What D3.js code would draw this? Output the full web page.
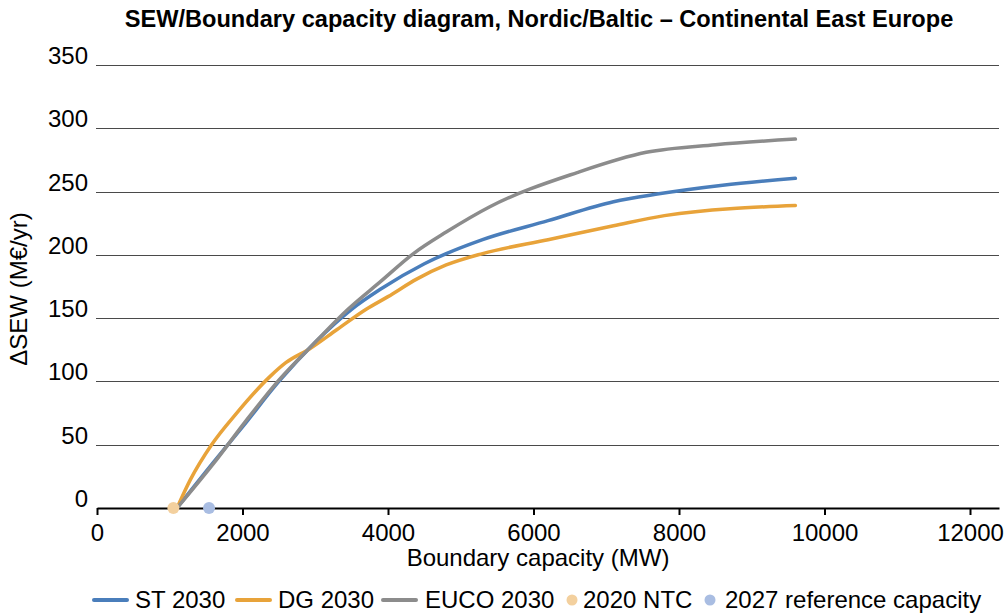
<!DOCTYPE html>
<html lang="en">
<head>
<meta charset="UTF-8">
<title>SEW/Boundary capacity diagram</title>
<script src="https://d3js.org/d3.v7.min.js"></script>
<style>
  body { margin: 0; background: #fff; }
  svg { font-family: Arial, "Liberation Sans", sans-serif; }
  .grid line { stroke: #4a4a4a; stroke-width: 1px; }
  .series { fill: none; stroke-width: 3.5px; stroke-linecap: round; stroke-linejoin: round; }
</style>
</head>
<body>
<div id="chart"></div>
<script>
  // data (MW, M€/yr)
  const st2030 = [[1100,0],[1600,36],[2000,64],[2500,100],[3000,131],[3500,157],[3900,173],[4500,193],[5300,212],[6200,227],[7100,242],[7700,248],[8600,255],[9600,260.5]];
  const dg2030 = [[1100,0],[1280,22],[1575,50],[1920,75],[2380,104],[2600,115],[2930,126],[3300,141],[3700,157],[4000,167],[4400,181],[4800,192],[5300,201],[6200,212],[7100,223],[7800,231],[9600,239]];
  const euco2030 = [[1100,0],[1600,35],[2050,69],[2500,101],[3000,131],[3450,157],[3900,179],[4350,201],[4800,218],[5400,238],[6600,265],[7550,281],[8500,287],[9600,291.5]];
  const ntc2020 = [[1050,0]];
  const ref2027 = [[1540,0]];
  const xTicks = [0,2000,4000,6000,8000,10000,12000];
  const yTicks = [0,50,100,150,200,250,300,350];

  const series = [
    { name: "ST 2030", data: st2030, color: "#4a7ebb" },
    { name: "DG 2030", data: dg2030, color: "#e8a33a" },
    { name: "EUCO 2030", data: euco2030, color: "#8c8c8c" }
  ];
  const dots = [
    { name: "2020 NTC", data: ntc2020, color: "#f3d09e" },
    { name: "2027 reference capacity", data: ref2027, color: "#a9bde2" }
  ];

  const W = 1005, H = 616;
  const margin = { top: 65, right: 6, bottom: 108, left: 97 };
  const innerW = W - margin.left - margin.right;
  const innerH = H - margin.top - margin.bottom;
  const fs = "24px";

  const svg = d3.select("#chart").append("svg")
    .attr("width", W).attr("height", H);

  const g = svg.append("g")
    .attr("transform", `translate(${margin.left},${margin.top})`);

  const x = d3.scaleLinear().domain([0, 12000 * innerW / (145.5 * 6)]).range([0, innerW]);
  const y = d3.scaleLinear().domain([0, 350]).range([innerH, 0]);

  // title
  svg.append("text")
    .attr("x", 539).attr("y", 27)
    .attr("text-anchor", "middle")
    .style("font-weight", "bold").style("font-size", "23.6px")
    .text("SEW/Boundary capacity diagram, Nordic/Baltic \u2013 Continental East Europe");

  // gridlines
  g.append("g").attr("class", "grid")
    .selectAll("line").data(yTicks.filter(d => d > 0)).enter().append("line")
    .attr("x1", -1).attr("x2", innerW)
    .attr("y1", d => Math.round(y(d)) + 0.5).attr("y2", d => Math.round(y(d)) + 0.5);

  // y tick labels
  g.append("g").selectAll("text").data(yTicks).enter().append("text")
    .attr("x", -9).attr("y", d => y(d) - 1)
    .attr("text-anchor", "end")
    .style("font-size", fs)
    .text(d => d);

  // x axis
  const xAxis = g.append("g")
    .attr("transform", `translate(0,${innerH})`)
    .call(d3.axisBottom(x).tickValues(xTicks).tickSize(7).tickSizeOuter(0).tickFormat(d3.format("d")));
  xAxis.select(".domain").attr("stroke", "#000").attr("stroke-width", 2.2);
  xAxis.selectAll(".tick line").attr("stroke", "#000").attr("stroke-width", 2);
  xAxis.selectAll(".tick text").style("font-size", fs).attr("y", 33).attr("dy", 0).attr("fill", "#000")
    .style("font-family", "Arial, 'Liberation Sans', sans-serif");

  // axis titles
  svg.append("text")
    .attr("x", 538).attr("y", 566)
    .attr("text-anchor", "middle").style("font-size", fs)
    .text("Boundary capacity (MW)");
  svg.append("text")
    .attr("transform", `translate(27,289) rotate(-90)`)
    .attr("text-anchor", "middle").style("font-size", fs)
    .text("\u0394SEW (M\u20ac/yr)");

  // lines
  const line = d3.line().x(d => x(d[0])).y(d => y(d[1])).curve(d3.curveMonotoneX);
  g.selectAll(".series").data(series).enter().append("path")
    .attr("class", "series")
    .attr("stroke", d => d.color)
    .attr("d", d => line(d.data));

  // markers
  dots.forEach(s => {
    g.selectAll(null).data(s.data).enter().append("circle")
      .attr("cx", d => x(d[0])).attr("cy", d => y(d[1]))
      .attr("r", 6).attr("fill", s.color);
  });

  // legend
  const legendY = 600;
  const legendItems = [
    { type: "line", s: series[0], x: 93, tx: 135 },
    { type: "line", s: series[1], x: 236, tx: 278 },
    { type: "line", s: series[2], x: 382, tx: 425 },
    { type: "dot", s: dots[0], x: 566, tx: 583 },
    { type: "dot", s: dots[1], x: 704, tx: 725 }
  ];
  const leg = svg.append("g");
  legendItems.forEach(it => {
    if (it.type === "line") {
      leg.append("line").attr("x1", it.x + 1).attr("x2", it.x + 34).attr("y1", legendY).attr("y2", legendY)
        .attr("stroke", it.s.color).attr("stroke-width", 4).attr("stroke-linecap", "round");
    } else {
      leg.append("circle").attr("cx", it.x + 6).attr("cy", legendY).attr("r", 5.5).attr("fill", it.s.color);
    }
    leg.append("text").attr("x", it.tx).attr("y", legendY + 8).style("font-size", fs).text(it.s.name);
  });
</script>
</body>
</html>
